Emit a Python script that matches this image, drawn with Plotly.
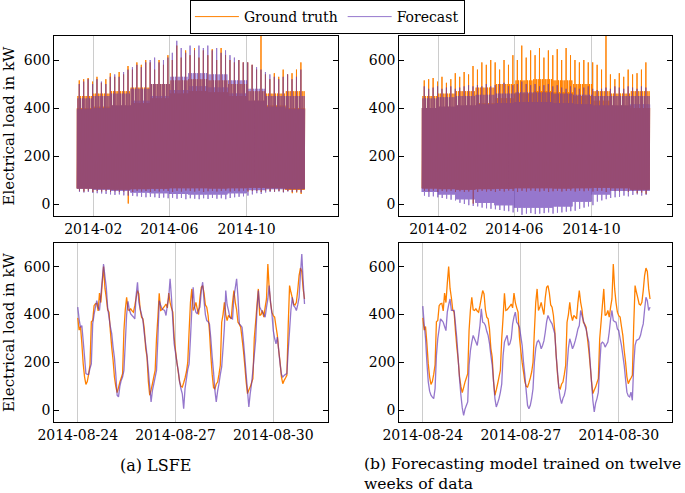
import pandas as pd
import plotly.graph_objects as go

W, H = 685, 493
FONT = "DejaVu Serif"
ORANGE = "rgb(255,128,0)"
PURPLE = "rgb(94,47,178)"
PURPLE_ALPHA = 0.65

# ---- year view: typical daily levels per month (Jan..Dec) ----
gt_top = [400, 405, 410, 420, 440, 460, 470, 465, 450, 430, 410, 400]
gt_mid = [450, 460, 470, 485, 500, 515, 520, 515, 500, 470, 460, 470]
gt_trough = [65, 62, 60, 62, 64, 66, 66, 65, 66, 68, 66, 60]
lsfe_top = [395, 400, 410, 430, 450, 475, 490, 485, 460, 430, 405, 395]
lsfe_mid = [440, 450, 460, 480, 500, 530, 545, 540, 515, 480, 450, 450]
lsfe_trough = [64, 60, 55, 48, 45, 42, 40, 40, 45, 58, 62, 62]
fcb_top = [400, 405, 410, 415, 420, 425, 425, 420, 415, 410, 410, 415]
fcb_mid = [440, 445, 450, 455, 460, 465, 465, 460, 455, 450, 450, 450]
fcb_trough = [50, 40, 20, 5, -5, -15, -15, -10, 10, 40, 55, 55]

# ---- year view: weekly extremes (weeks from 2014-01-06) ----
gt_spike = [515, 520, 525, 510, 530, 505, 520, 545, 530, 550, 540, 575, 560, 590, 580, 600,
            590, 560, 600, 580, 620, 600, 660, 610, 640, 620, 650, 610, 640, 620, 645, 600,
            650, 620, 600, 590, 600, 590, 590, 580, 560, 705, 540, 520, 545, 530, 560, 540,
            545, 560, 590, 580]
gt_dip = [55, 52, 56, 50, 54, 52, 55, 50, 53, 50, 52, 2, 50, 55, 52, 54, 50, 55, 52, 56,
          54, 50, 55, 52, 56, 54, 52, 55, 50, 53, 55, 52, 54, 56, 52, 55, 53, 56, 52, 54,
          55, 50, 56, 54, 52, 55, 50, 54, 45, 48, 42, 45]
lsfe_spike = [500, 510, 520, 500, 520, 510, 500, 530, 540, 530, 550, 560, 570, 580, 570, 590,
              600, 610, 590, 600, 610, 630, 680, 650, 630, 660, 640, 660, 650, 660, 640, 650,
              630, 640, 620, 610, 600, 590, 590, 580, 570, 560, 550, 540, 530, 520, 530, 540,
              520, 530, 560, 540]
lsfe_dip = [50, 48, 50, 46, 45, 44, 42, 40, 38, 40, 36, 35, 34, 32, 30, 28, 30, 28, 25, 27,
            24, 26, 22, 25, 20, 24, 22, 20, 24, 21, 25, 22, 24, 20, 25, 28, 30, 32, 35, 40,
            45, 42, 48, 50, 50, 52, 48, 52, 50, 52, 48, 50]
fcb_spike = [490, 480, 485, 490, 480, 485, 490, 480, 485, 490, 495, 490, 495, 490, 500, 490,
             495, 500, 505, 490, 495, 500, 510, 500, 495, 500, 490, 495, 500, 490, 495, 485,
             480, 490, 485, 480, 485, 490, 480, 475, 480, 485, 480, 490, 485, 480, 490, 485,
             480, 490, 485, 480]
fcb_dip = [35, 30, 32, 28, 25, 22, 18, 15, 5, 0, -5, -8, -10, -15, -18, -20, -22, -25, -28, -30,
           -35, -32, -45, -40, -38, -42, -40, -38, -35, -40, -36, -35, -32, -30, -28, -20, -15, -10,
           -5, 10, 15, 20, 25, 28, 30, 35, 32, 38, 40, 35, 38, 40]

# ---- week view: hourly values from 2014-08-24 00:00 ----
gt_hourly = [
    386, 335, 350, 280, 195, 140, 108, 120, 150, 190, 370, 375, 437, 445, 447, 415, 490, 450, 530, 600, 510, 470, 420, 410,
    330, 264, 210, 139, 100, 74, 95, 118, 135, 153, 333, 420, 472, 420, 417, 424, 415, 410, 437, 470, 500, 486, 420, 389,
    382, 340, 260, 222, 120, 63, 85, 111, 140, 167, 300, 389, 489, 417, 420, 428, 435, 444, 428, 490, 450, 428, 410, 306,
    250, 200, 160, 120, 100, 97, 115, 135, 160, 200, 330, 450, 507, 417, 430, 451, 424, 400, 470, 514, 521, 490, 440, 431,
    396, 330, 229, 150, 95, 90, 110, 118, 150, 188, 368, 400, 451, 400, 375, 396, 390, 382, 450, 500, 451, 420, 368, 360,
    347, 300, 250, 188, 120, 70, 85, 97, 115, 132, 300, 368, 440, 507, 396, 400, 417, 389, 430, 465, 611, 507, 450, 410,
    395, 389, 350, 313, 250, 201, 140, 111, 125, 135, 146, 354, 521, 493, 470, 444, 440, 451, 500, 563, 594, 580, 507, 465,
]
lsfe_hourly = [
    431, 380, 347, 354, 290, 222, 153, 150, 150, 175, 194, 361, 400, 431, 458, 430, 417, 479, 542, 611, 560, 514, 430, 389,
    350, 320, 264, 220, 150, 63, 56, 100, 125, 139, 167, 280, 400, 455, 420, 403, 396, 390, 382, 480, 535, 451, 424, 400,
    375, 320, 278, 230, 167, 100, 35, 83, 110, 139, 167, 300, 458, 440, 424, 420, 417, 396, 440, 472, 549, 472, 375, 278,
    240, 200, 167, 120, 90, 69, 7, 90, 130, 170, 194, 300, 420, 514, 431, 410, 403, 420, 431, 500, 535, 458, 400, 375,
    370, 361, 300, 222, 160, 83, 35, 80, 111, 150, 181, 260, 347, 500, 440, 417, 389, 385, 382, 472, 510, 549, 472, 361,
    355, 347, 290, 222, 150, 83, 14, 70, 111, 167, 230, 292, 420, 500, 431, 420, 410, 400, 389, 430, 465, 521, 450, 403,
    333, 300, 278, 306, 250, 194, 150, 139, 146, 150, 153, 250, 333, 420, 472, 437, 430, 417, 440, 472, 569, 653, 542, 444,
]
fcb_hourly = [
    435, 360, 300, 200, 120, 80, 63, 55, 49, 90, 229, 300, 340, 382, 375, 368, 350, 333, 410, 440, 465, 417, 417, 417,
    360, 299, 215, 130, 63, 10, -21, 5, 20, 35, 188, 250, 285, 313, 299, 285, 271, 310, 354, 424, 368, 365, 354, 330,
    313, 280, 230, 190, 120, 49, 14, 30, 49, 75, 110, 229, 285, 300, 313, 271, 278, 300, 360, 390, 410, 368, 360, 347,
    310, 271, 200, 146, 80, 20, 7, 21, 50, 90, 201, 260, 285, 292, 280, 257, 271, 290, 326, 370, 396, 382, 370, 361,
    340, 320, 230, 160, 90, 50, 28, 50, 63, 90, 180, 260, 299, 280, 257, 271, 290, 313, 340, 354, 417, 395, 375, 354,
    340, 310, 285, 200, 118, 40, -7, 30, 49, 76, 188, 278, 285, 280, 264, 275, 285, 326, 380, 417, 375, 370, 368, 340,
    333, 300, 271, 230, 188, 130, 76, 60, 56, 76, 42, 188, 271, 292, 295, 299, 313, 340, 361, 420, 472, 458, 417, 431,
]

year_start = pd.Timestamp("2014-01-06")
year_end = pd.Timestamp("2014-12-31")
week_start = pd.Timestamp("2014-08-24")


def year_series(top, mid, trough, spike, dip):
    # one trough and one peak per day, the week's extremes on Thursday / Friday
    xs, ys = [], []
    day = year_start
    while day <= year_end:
        k = (day - year_start).days // 7
        wd = day.weekday()
        m = day.month - 1
        low = dip[k] if wd == 4 else trough[m]
        if wd == 3:
            high = spike[k]
        elif wd in (1, 5):
            high = mid[m]
        else:
            high = top[m]
        xs += [day + pd.Timedelta(hours=4), day + pd.Timedelta(hours=19)]
        ys += [low, high]
        day += pd.Timedelta(days=1)
    return xs, ys


def px_x(a, b):
    return [a / W, b / W]


def px_y(top, bottom):
    return [1 - bottom / H, 1 - top / H]


gt_x, gt_y = year_series(gt_top, gt_mid, gt_trough, gt_spike, gt_dip)
ls_x, ls_y = year_series(lsfe_top, lsfe_mid, lsfe_trough, lsfe_spike, lsfe_dip)
fb_x, fb_y = year_series(fcb_top, fcb_mid, fcb_trough, fcb_spike, fcb_dip)
week_x = [week_start + pd.Timedelta(hours=h) for h in range(len(gt_hourly))]

fig = go.Figure()
panels = [
    ("x", "y", gt_x, gt_y, ls_x, ls_y, 1.0),
    ("x2", "y2", gt_x, gt_y, fb_x, fb_y, 1.0),
    ("x3", "y3", week_x, gt_hourly, week_x, lsfe_hourly, 1.3),
    ("x4", "y4", week_x, gt_hourly, week_x, fcb_hourly, 1.3),
]
for i, (xa, ya, tx, ty, fx, fy, lw) in enumerate(panels):
    fig.add_trace(go.Scatter(x=tx, y=ty, mode="lines", xaxis=xa, yaxis=ya,
                             line=dict(color=ORANGE, width=lw, simplify=False),
                             name="Ground truth", legendgroup="gt", showlegend=(i == 0)))
    fig.add_trace(go.Scatter(x=fx, y=fy, mode="lines", xaxis=xa, yaxis=ya,
                             line=dict(color=PURPLE, width=lw, simplify=False),
                             opacity=PURPLE_ALPHA,
                             name="Forecast", legendgroup="fc", showlegend=(i == 0)))

common_x = dict(type="date", showline=True, linecolor="black", linewidth=1, mirror=True,
                showgrid=True, gridcolor="#cccccc", gridwidth=1, ticks="", zeroline=False,
                automargin=False, tickfont=dict(family=FONT, size=14, color="black"))
common_y = dict(range=[-50, 700], tickvals=[0, 200, 400, 600], showline=True, linecolor="black",
                linewidth=1, mirror="ticks", ticks="inside", ticklen=5, tickcolor="black",
                showgrid=False, zeroline=False, automargin=False,
                tickfont=dict(family=FONT, size=14, color="black"))
ytitle = dict(text="Electrical load in kW", font=dict(family=FONT, size=15, color="black"), standoff=6)

year_ticks = [pd.Timestamp("2014-02-01"), pd.Timestamp("2014-06-01"), pd.Timestamp("2014-10-01")]
year_text = ["2014-02", "2014-06", "2014-10"]
week_ticks = [week_start + pd.Timedelta(days=d) for d in (0, 3, 6)]
week_text = ["2014-08-24", "2014-08-27", "2014-08-30"]
y0 = pd.Timestamp("2014-01-01")

fig.update_layout(
    width=W, height=H, margin=dict(l=0, r=0, t=0, b=0, autoexpand=False),
    paper_bgcolor="white", plot_bgcolor="white",
    font=dict(family=FONT, size=14, color="black"),
    xaxis=dict(common_x, domain=px_x(54.3, 337.7), anchor="y",
               range=[y0 - pd.Timedelta(days=30.6), y0 + pd.Timedelta(days=416.9)],
               tickvals=year_ticks, ticktext=year_text),
    yaxis=dict(common_y, domain=px_y(36, 216), anchor="x", title=ytitle),
    xaxis2=dict(common_x, domain=px_x(399.3, 672.3), anchor="y2",
                range=[y0 - pd.Timedelta(days=30.6), y0 + pd.Timedelta(days=400.5)],
                tickvals=year_ticks, ticktext=year_text),
    yaxis2=dict(common_y, domain=px_y(36, 216), anchor="x2"),
    xaxis3=dict(common_x, domain=px_x(54.3, 327.7), anchor="y3",
                range=[week_start - pd.Timedelta(days=0.72), week_start + pd.Timedelta(days=7.67)],
                tickvals=week_ticks, ticktext=week_text),
    yaxis3=dict(common_y, domain=px_y(242.7, 422.3), anchor="x3", title=ytitle),
    xaxis4=dict(common_x, domain=px_x(399.3, 672.3), anchor="y4",
                range=[week_start - pd.Timedelta(days=0.72), week_start + pd.Timedelta(days=7.64)],
                tickvals=week_ticks, ticktext=week_text),
    yaxis4=dict(common_y, domain=px_y(242.7, 422.3), anchor="x4"),
    legend=dict(orientation="h", x=0.478, xanchor="center", y=1.0, yanchor="top",
                bordercolor="black", borderwidth=1, bgcolor="white", itemwidth=44,
                font=dict(family=FONT, size=14, color="black")),
    showlegend=True,
)

fig.add_annotation(text="(a) LSFE", x=155 / W, y=1 - 465 / H, xref="paper", yref="paper",
                   xanchor="center", yanchor="middle", showarrow=False,
                   font=dict(family=FONT, size=16, color="black"))
fig.add_annotation(text="(b) Forecasting model trained on twelve<br>weeks of data",
                   x=361.7 / W, y=1 - 474 / H, xref="paper", yref="paper",
                   xanchor="left", yanchor="middle", align="left", showarrow=False,
                   font=dict(family=FONT, size=15.6, color="black"))

# the page body has a default 8px margin; drop it so the figure sits at the window corner
fig.write_html("out.html", config={"displayModeBar": False},
               post_script="document.body.style.margin = '0px';")
